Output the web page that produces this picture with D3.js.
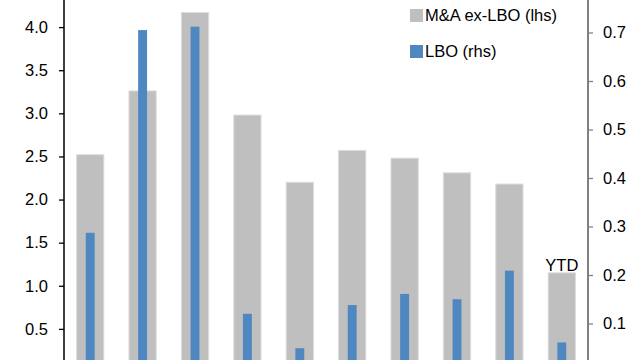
<!DOCTYPE html>
<html>
<head>
<meta charset="utf-8">
<script src="https://cdn.jsdelivr.net/npm/d3@7"></script>
<style>
  body { margin: 0; background: #fff; }
  text { font-family: "Liberation Sans", Arial, sans-serif; }
</style>
</head>
<body>
<div id="chart"></div>
<script>
// data
var categories = ["1", "2", "3", "4", "5", "6", "7", "8", "9", "YTD"];
var mnaExLbo = [2.52, 3.26, 4.17, 2.98, 2.20, 2.57, 2.48, 2.31, 2.18, 1.15];
var lbo = [0.287, 0.705, 0.712, 0.12, 0.049, 0.138, 0.161, 0.150, 0.209, 0.061];
var leftTicks = [0.5, 1.0, 1.5, 2.0, 2.5, 3.0, 3.5, 4.0];
var rightTicks = [0.1, 0.2, 0.3, 0.4, 0.5, 0.6, 0.7];

var width = 640, height = 360;
var left = 64, right = 588;

var svg = d3.select("#chart").append("svg")
    .attr("width", width)
    .attr("height", height);

// set the ranges (plot runs past the bottom/top of the crop)
var x = d3.scaleBand()
          .domain(categories)
          .range([left, right]);
var yL = d3.scaleLinear()
           .domain([0, 4.5])
           .range([372, -16]);
var yR = d3.scaleLinear()
           .domain([0, 0.8])
           .range([372, -16]);

var bw = x.bandwidth();
var grayW = bw * 0.52, blueW = bw * 0.17;

// gray bars, lhs
svg.selectAll(".gray")
   .data(mnaExLbo)
   .enter().append("rect")
   .attr("class", "gray")
   .attr("x", function(d, i){ return x(categories[i]) + (bw - grayW) / 2; })
   .attr("y", function(d){ return yL(d); })
   .attr("width", grayW)
   .attr("height", function(d){ return yL(0) - yL(d); })
   .attr("fill", "#bfbfbf")
   .attr("stroke", "#dcdcdc")
   .attr("stroke-width", 1);

// blue bars, rhs
svg.selectAll(".blue")
   .data(lbo)
   .enter().append("rect")
   .attr("class", "blue")
   .attr("x", function(d, i){ return x(categories[i]) + (bw - blueW) / 2; })
   .attr("y", function(d){ return yR(d); })
   .attr("width", blueW)
   .attr("height", function(d){ return yR(0) - yR(d); })
   .attr("fill", "#4f88c0");

// YTD label above last bar
var last = categories.length - 1;
svg.append("text")
   .attr("x", x(categories[last]) + bw / 2)
   .attr("y", yL(mnaExLbo[last]) - 2)
   .attr("text-anchor", "middle")
   .attr("font-size", "16.5px")
   .attr("fill", "#000")
   .text("YTD");

// left axis
var gL = svg.append("g")
    .attr("transform", "translate(" + left + ",0)")
    .call(d3.axisLeft(yL).tickValues(leftTicks).tickFormat(d3.format(".1f"))
          .tickSizeInner(5).tickSizeOuter(0).tickPadding(11));
gL.select(".domain").remove();
gL.append("line").attr("x1", 0).attr("x2", 0).attr("y1", 0).attr("y2", height)
  .attr("stroke", "#000").attr("stroke-width", 1.5);
gL.selectAll(".tick line").attr("stroke", "#000").attr("stroke-width", 1.3);
gL.selectAll("text").attr("font-size", "16.5px").attr("fill", "#000")
  .attr("font-family", "Liberation Sans, Arial, sans-serif");

// right axis
var gR = svg.append("g")
    .attr("transform", "translate(" + right + ",0)")
    .call(d3.axisRight(yR).tickValues(rightTicks).tickFormat(d3.format(".1f"))
          .tickSizeInner(5).tickSizeOuter(0).tickPadding(10));
gR.select(".domain").remove();
gR.append("line").attr("x1", 0).attr("x2", 0).attr("y1", 0).attr("y2", height)
  .attr("stroke", "#808080").attr("stroke-width", 2);
gR.selectAll(".tick line").attr("stroke", "#808080").attr("stroke-width", 1.3);
gR.selectAll("text").attr("font-size", "16.5px").attr("fill", "#000")
  .attr("font-family", "Liberation Sans, Arial, sans-serif");

// legend
var legendItems = [
  {label: "M&A ex-LBO (lhs)", color: "#bfbfbf"},
  {label: "LBO (rhs)", color: "#4f88c0"}
];
var legend = svg.append("g").attr("transform", "translate(410,0)");
legend.selectAll("rect")
  .data(legendItems)
  .enter().append("rect")
  .attr("x", 0)
  .attr("y", function(d, i){ return 9 + i * 36; })
  .attr("width", 13)
  .attr("height", 13)
  .attr("fill", function(d){ return d.color; });
legend.selectAll("text")
  .data(legendItems)
  .enter().append("text")
  .attr("x", 15)
  .attr("y", function(d, i){ return 21 + i * 36; })
  .attr("font-size", "16.5px")
  .attr("fill", "#000")
  .text(function(d){ return d.label; });
</script>
</body>
</html>
